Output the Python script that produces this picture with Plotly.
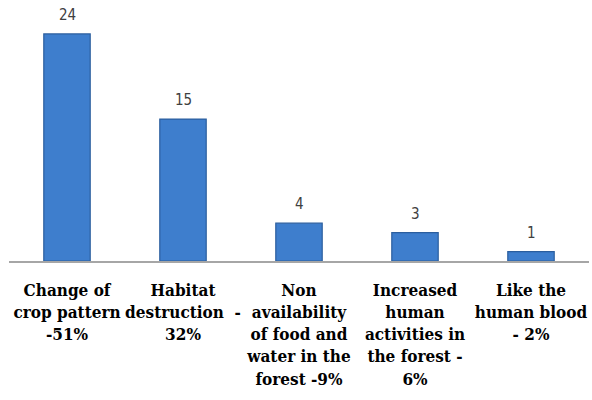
import plotly.graph_objects as go

# Reasons reported for the conflict, with respondent counts
categories = [
    "Change of<br>crop pattern<br>-51%",
    "Habitat<br>destruction  -<br>32%",
    "Non<br>availability<br>of food and<br>water in the<br>forest -9%",
    "Increased<br>human<br>activities in<br>the forest -<br>6%",
    "Like the<br>human blood<br>- 2%",
]
counts = [24, 15, 4, 3, 1]

fig = go.Figure()
fig.add_trace(go.Bar(
    x=categories,
    y=counts,
    width=0.4,
    marker=dict(color="#3E7ECD", line=dict(color="#2B5E9E", width=1.2)),
    hoverinfo="skip",
))

# Value labels above each bar
for cat, v in zip(categories, counts):
    fig.add_annotation(
        x=cat, y=v, text=str(v), showarrow=False,
        yanchor="bottom", yshift=8,
        font=dict(family="DejaVu Sans Condensed, DejaVu Sans", size=15, color="#404040"),
    )

fig.update_layout(
    width=592, height=400,
    margin=dict(l=9, r=3, t=15, b=139),
    plot_bgcolor="white", paper_bgcolor="white",
    showlegend=False,
    bargap=0.6,
)
fig.update_xaxes(
    showline=True, linecolor="#A6A6A6", linewidth=1.5,
    ticks="", showgrid=False,
    tickfont=dict(family="DejaVu Serif Condensed, DejaVu Serif", size=17,
                  color="black", weight="bold"),
    tickangle=0,
    ticklabelstandoff=13,
)
fig.update_yaxes(
    range=[0, 26], visible=False, showgrid=False, zeroline=False,
)

fig.write_html("out.html")
